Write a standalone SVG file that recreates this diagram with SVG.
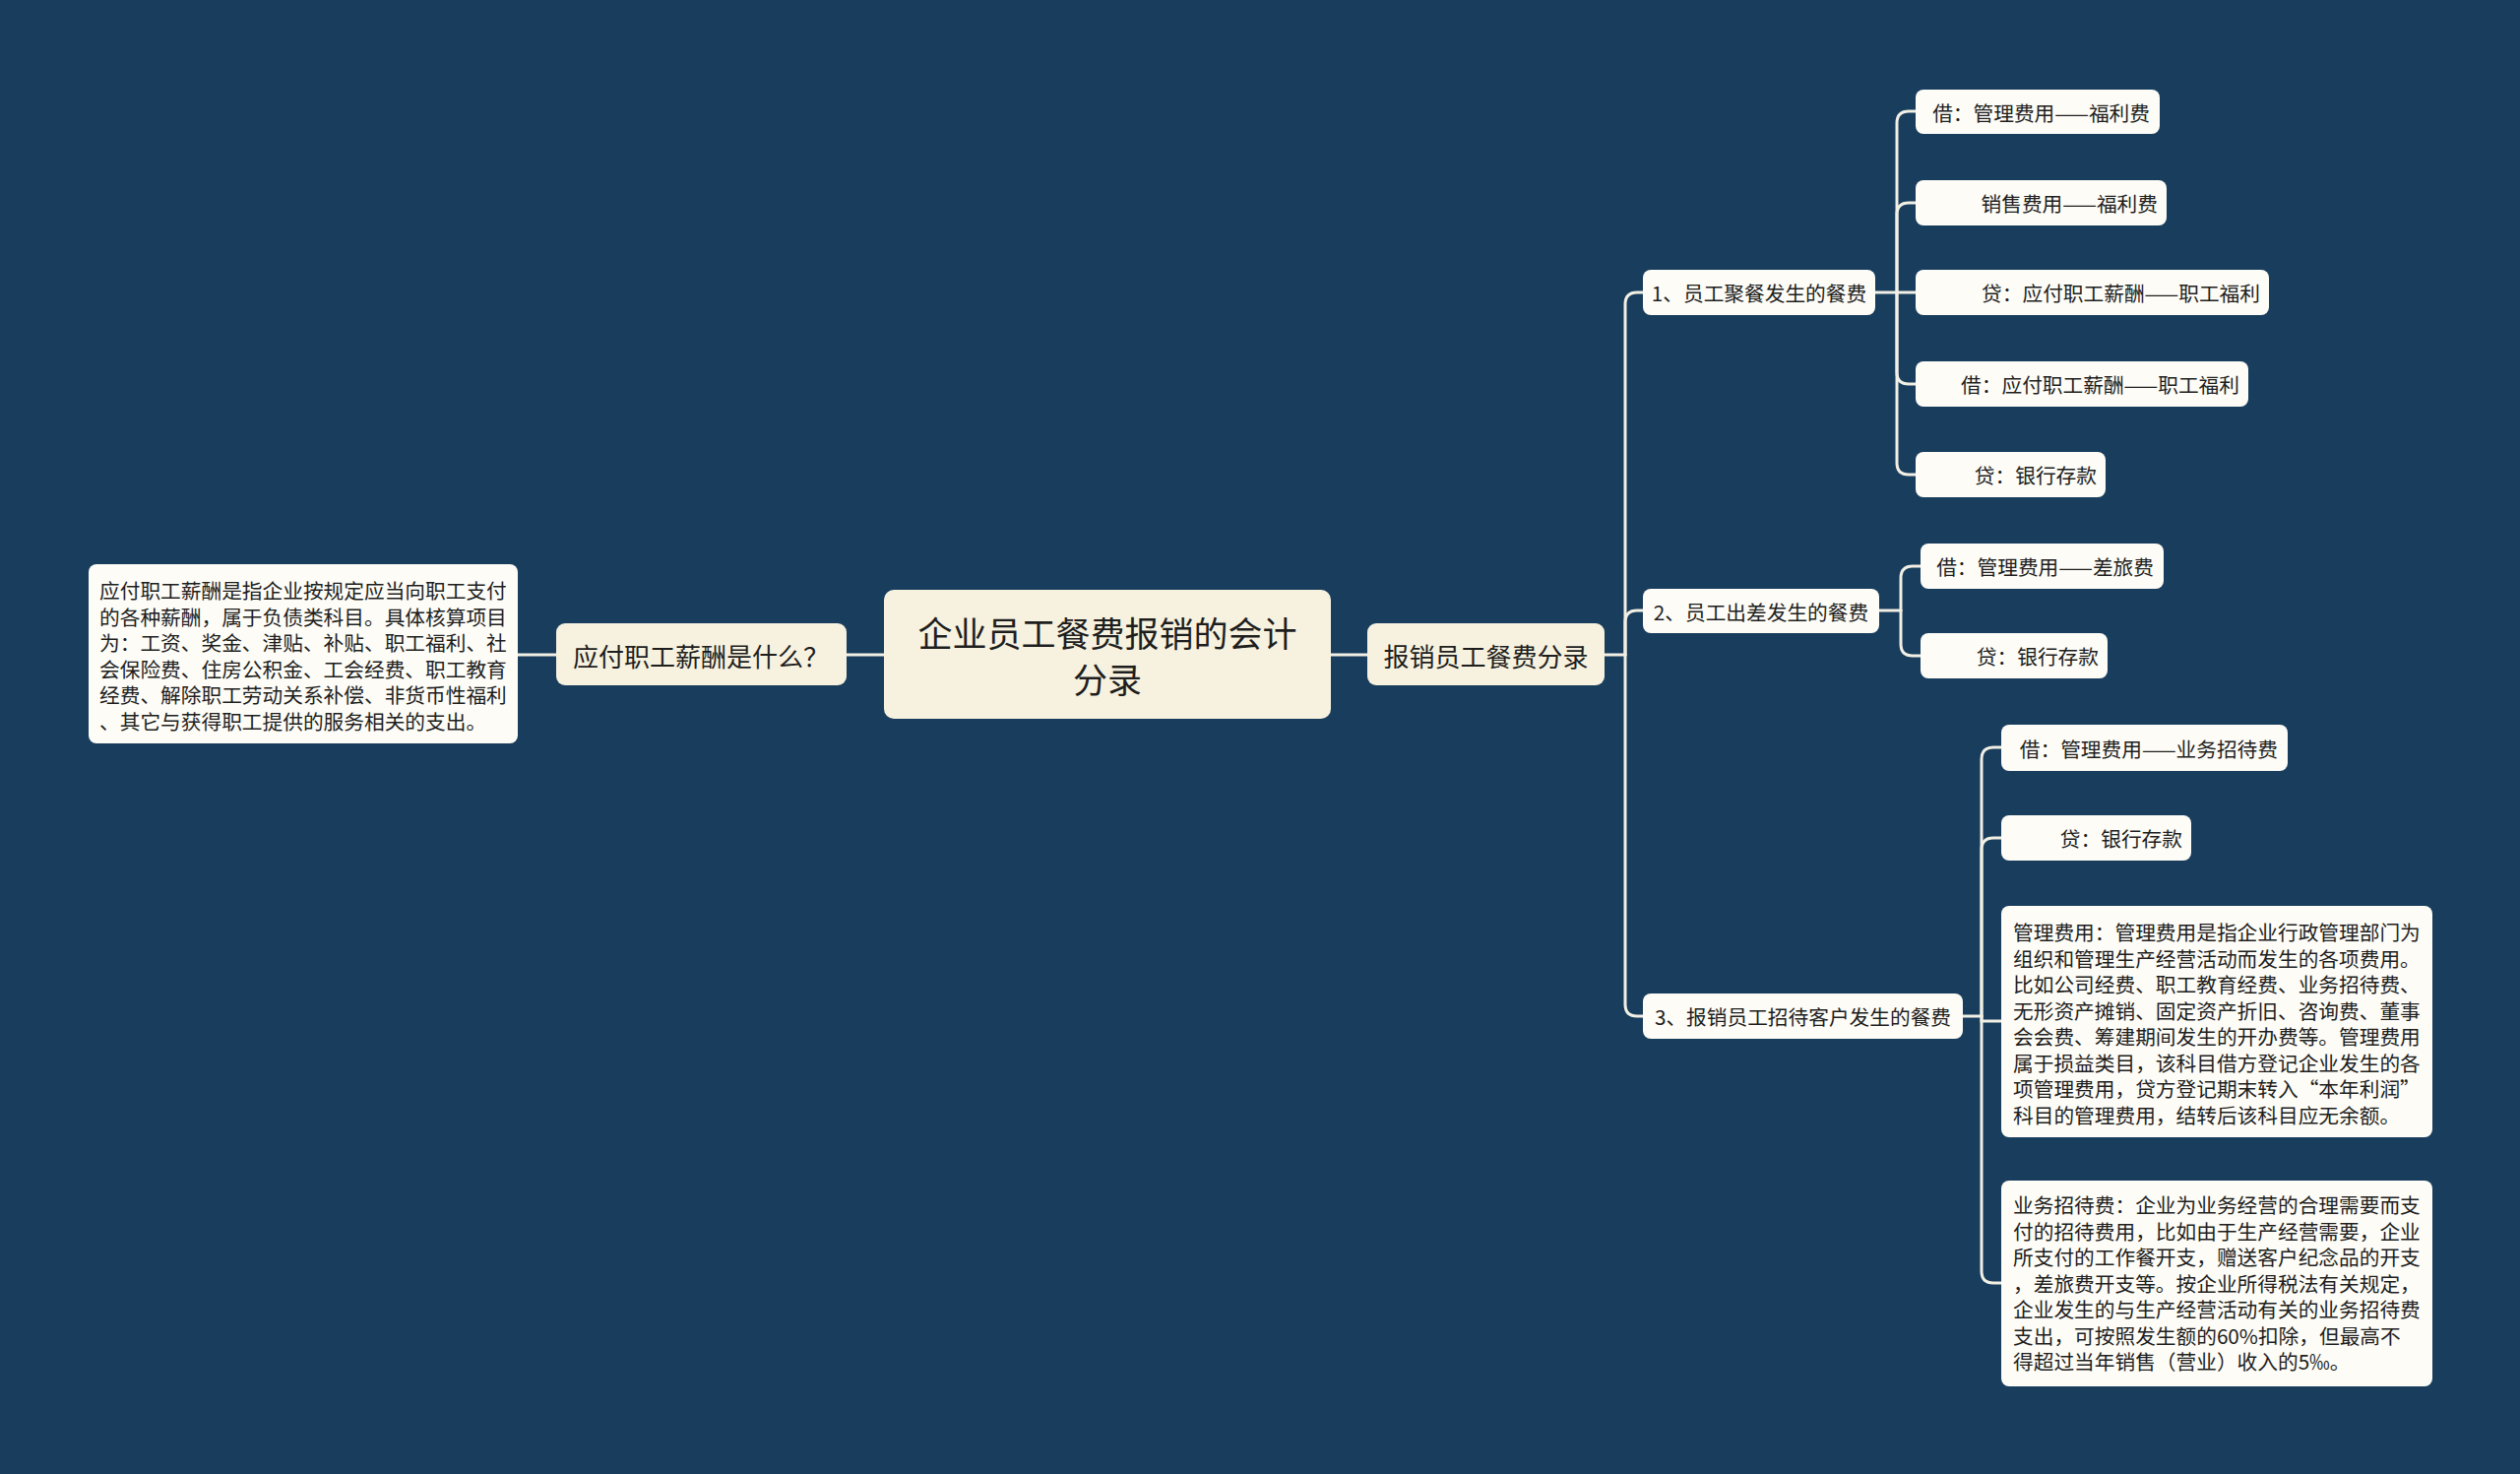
<svg xmlns="http://www.w3.org/2000/svg" width="2560" height="1497" viewBox="0 0 2560 1497">
<style>
text{font-family:"Noto Sans CJK SC","Noto Sans",sans-serif;fill:#1e1e1e;dominant-baseline:central}
.main{fill:#f7f2df}
.leaf{fill:#fdfcf6}
.t35{font-size:35px;text-anchor:middle}
.t26{font-size:26px;text-anchor:middle}
.t21{font-size:20.7px}
.mid{text-anchor:middle}
.end{text-anchor:end}
.conn path{fill:none;stroke:#f2efe4;stroke-width:3;stroke-linecap:round}
</style>
<rect width="2560" height="1497" fill="#183d5d"/>
<g class="conn" id="connectors">
<path d="M898 665H860"/>
<path d="M565 665H526"/>
<path d="M1352 665H1389"/>
<path d="M1629 665H1651"/>
<path d="M1651 665V309Q1651 297 1663 297H1669"/>
<path d="M1651 665V632Q1651 620 1663 620H1669"/>
<path d="M1651 665V1020Q1651 1032 1663 1032H1669"/>
<path d="M1905 297H1946"/>
<path d="M1927 297V125Q1927 113 1939 113H1946"/>
<path d="M1927 297V218Q1927 206 1939 206H1946"/>
<path d="M1927 297V378Q1927 390 1939 390H1946"/>
<path d="M1927 297V470Q1927 482 1939 482H1946"/>
<path d="M1909 620H1931"/>
<path d="M1931 620V587Q1931 575 1943 575H1951"/>
<path d="M1931 620V654Q1931 666 1943 666H1951"/>
<path d="M1994 1032H2013"/>
<path d="M2013 1032V771Q2013 759 2025 759H2033"/>
<path d="M2013 1032V863Q2013 851 2025 851H2033"/>
<path d="M2013 1032V1037H2033"/>
<path d="M2013 1032V1291Q2013 1303 2025 1303H2033"/>
</g>
<g id="root">
<rect class="main" x="898" y="599" width="454" height="131" rx="10"/>
<text class="t35" x="1125" y="641">企业员工餐费报销的会计</text>
<text class="t35" x="1125" y="688">分录</text>
</g>
<g id="n-left">
<rect class="main" x="565" y="633" width="295" height="63" rx="9"/>
<text class="t26" x="712" y="665">应付职工薪酬是什么？</text>
</g>
<g id="n-left-desc">
<rect class="leaf" x="90" y="573" width="436" height="182" rx="8"/>
<text class="t21" x="101" y="599">应付职工薪酬是指企业按规定应当向职工支付</text>
<text class="t21" x="101" y="625.5">的各种薪酬，属于负债类科目。具体核算项目</text>
<text class="t21" x="101" y="652">为：工资、奖金、津贴、补贴、职工福利、社</text>
<text class="t21" x="101" y="678.5">会保险费、住房公积金、工会经费、职工教育</text>
<text class="t21" x="101" y="705">经费、解除职工劳动关系补偿、非货币性福利</text>
<text class="t21" x="101" y="731.5">、其它与获得职工提供的服务相关的支出。</text>
</g>
<g id="n-right">
<rect class="main" x="1389" y="633" width="241" height="63" rx="9"/>
<text class="t26" x="1509.5" y="665">报销员工餐费分录</text>
</g>
<g id="n1">
<rect class="leaf" x="1669" y="274" width="236" height="46" rx="8"/>
<text class="t21 mid" x="1787" y="297">1、员工聚餐发生的餐费</text>
</g>
<g id="n1a">
<rect class="leaf" x="1946" y="91" width="248" height="45" rx="8"/>
<text class="t21 end" x="2184" y="113.5">借：管理费用——福利费</text>
</g>
<g id="n1b">
<rect class="leaf" x="1946" y="183" width="255" height="46" rx="8"/>
<text class="t21 end" x="2192" y="206">销售费用——福利费</text>
</g>
<g id="n1c">
<rect class="leaf" x="1946" y="274" width="359" height="46" rx="8"/>
<text class="t21 end" x="2296" y="297">贷：应付职工薪酬——职工福利</text>
</g>
<g id="n1d">
<rect class="leaf" x="1946" y="367" width="338" height="46" rx="8"/>
<text class="t21 end" x="2275" y="390">借：应付职工薪酬——职工福利</text>
</g>
<g id="n1e">
<rect class="leaf" x="1946" y="459" width="193" height="46" rx="8"/>
<text class="t21 end" x="2130" y="482">贷：银行存款</text>
</g>
<g id="n2">
<rect class="leaf" x="1669" y="598" width="240" height="45" rx="8"/>
<text class="t21 mid" x="1789" y="620.5">2、员工出差发生的餐费</text>
</g>
<g id="n2a">
<rect class="leaf" x="1951" y="552" width="247" height="46" rx="8"/>
<text class="t21 end" x="2188" y="575">借：管理费用——差旅费</text>
</g>
<g id="n2b">
<rect class="leaf" x="1951" y="643" width="190" height="46" rx="8"/>
<text class="t21 end" x="2132" y="666">贷：银行存款</text>
</g>
<g id="n3">
<rect class="leaf" x="1669" y="1009" width="325" height="46" rx="8"/>
<text class="t21 mid" x="1831.5" y="1032">3、报销员工招待客户发生的餐费</text>
</g>
<g id="n3a">
<rect class="leaf" x="2033" y="736" width="291" height="47" rx="8"/>
<text class="t21 end" x="2314" y="759.5">借：管理费用——业务招待费</text>
</g>
<g id="n3b">
<rect class="leaf" x="2033" y="828" width="193" height="46" rx="8"/>
<text class="t21 end" x="2217" y="851">贷：银行存款</text>
</g>
<g id="n3c">
<rect class="leaf" x="2033" y="920" width="438" height="235" rx="8"/>
<text class="t21" x="2045" y="946">管理费用：管理费用是指企业行政管理部门为</text>
<text class="t21" x="2045" y="972.5">组织和管理生产经营活动而发生的各项费用。</text>
<text class="t21" x="2045" y="999">比如公司经费、职工教育经费、业务招待费、</text>
<text class="t21" x="2045" y="1025.5">无形资产摊销、固定资产折旧、咨询费、董事</text>
<text class="t21" x="2045" y="1052">会会费、筹建期间发生的开办费等。管理费用</text>
<text class="t21" x="2045" y="1078.5">属于损益类目，该科目借方登记企业发生的各</text>
<text class="t21" x="2045" y="1105">项管理费用，贷方登记期末转入“本年利润”</text>
<text class="t21" x="2045" y="1131.5">科目的管理费用，结转后该科目应无余额。</text>
</g>
<g id="n3d">
<rect class="leaf" x="2033" y="1199" width="438" height="209" rx="8"/>
<text class="t21" x="2045" y="1223">业务招待费：企业为业务经营的合理需要而支</text>
<text class="t21" x="2045" y="1249.5">付的招待费用，比如由于生产经营需要，企业</text>
<text class="t21" x="2045" y="1276">所支付的工作餐开支，赠送客户纪念品的开支</text>
<text class="t21" x="2045" y="1302.5">，差旅费开支等。按企业所得税法有关规定，</text>
<text class="t21" x="2045" y="1329">企业发生的与生产经营活动有关的业务招待费</text>
<text class="t21" x="2045" y="1355.5">支出，可按照发生额的60%扣除，但最高不</text>
<text class="t21" x="2045" y="1382">得超过当年销售（营业）收入的5‰。</text>
</g>
</svg>
